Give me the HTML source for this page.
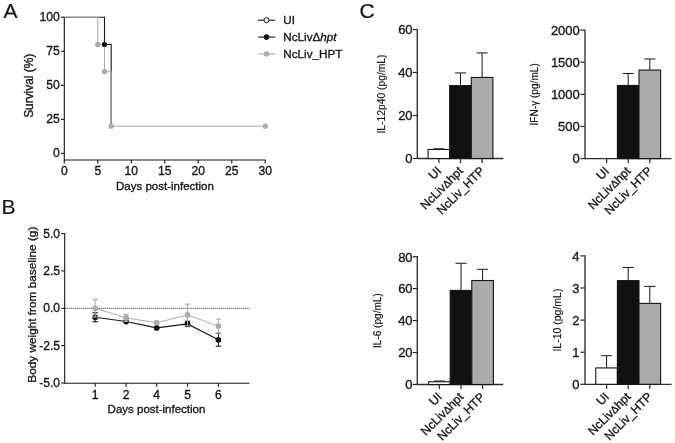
<!DOCTYPE html>
<html><head><meta charset="utf-8"><title>Figure</title>
<style>
html,body{margin:0;padding:0;background:#fff;}
body{width:675px;height:443px;overflow:hidden;font-family:'Liberation Sans', sans-serif;}
svg{display:block;}
svg text{font-family:'Liberation Sans', sans-serif;}
</style></head><body>
<svg width="675" height="443" viewBox="0 0 675 443">
<rect x="0" y="0" width="675" height="443" fill="#ffffff"/>
<text x="3.40" y="17.90" font-size="21" text-anchor="start" fill="#161616" stroke="#161616" stroke-width="0.2" >A</text>
<text x="1.60" y="213.60" font-size="21" text-anchor="start" fill="#161616" stroke="#161616" stroke-width="0.2" >B</text>
<text x="359.50" y="17.70" font-size="21" text-anchor="start" fill="#161616" stroke="#161616" stroke-width="0.2" >C</text>
<line x1="64.30" y1="16.70" x2="64.30" y2="160.00" stroke="#161616" stroke-width="1.1" />
<line x1="63.80" y1="160.00" x2="265.71" y2="160.00" stroke="#161616" stroke-width="1.1" />
<line x1="60.90" y1="153.40" x2="64.30" y2="153.40" stroke="#161616" stroke-width="1.1" />
<text x="59.70" y="157.30" font-size="12.1" text-anchor="end" fill="#161616" stroke="#161616" stroke-width="0.33" >0</text>
<line x1="60.90" y1="119.35" x2="64.30" y2="119.35" stroke="#161616" stroke-width="1.1" />
<text x="59.70" y="123.25" font-size="12.1" text-anchor="end" fill="#161616" stroke="#161616" stroke-width="0.33" >25</text>
<line x1="60.90" y1="85.30" x2="64.30" y2="85.30" stroke="#161616" stroke-width="1.1" />
<text x="59.70" y="89.20" font-size="12.1" text-anchor="end" fill="#161616" stroke="#161616" stroke-width="0.33" >50</text>
<line x1="60.90" y1="51.25" x2="64.30" y2="51.25" stroke="#161616" stroke-width="1.1" />
<text x="59.70" y="55.15" font-size="12.1" text-anchor="end" fill="#161616" stroke="#161616" stroke-width="0.33" >75</text>
<line x1="60.90" y1="17.20" x2="64.30" y2="17.20" stroke="#161616" stroke-width="1.1" />
<text x="59.70" y="21.10" font-size="12.1" text-anchor="end" fill="#161616" stroke="#161616" stroke-width="0.33" >100</text>
<line x1="64.30" y1="160.00" x2="64.30" y2="163.50" stroke="#161616" stroke-width="1.1" />
<text x="64.30" y="175.10" font-size="12.1" text-anchor="middle" fill="#161616" stroke="#161616" stroke-width="0.33" >0</text>
<line x1="97.78" y1="160.00" x2="97.78" y2="163.50" stroke="#161616" stroke-width="1.1" />
<text x="97.78" y="175.10" font-size="12.1" text-anchor="middle" fill="#161616" stroke="#161616" stroke-width="0.33" >5</text>
<line x1="131.27" y1="160.00" x2="131.27" y2="163.50" stroke="#161616" stroke-width="1.1" />
<text x="131.27" y="175.10" font-size="12.1" text-anchor="middle" fill="#161616" stroke="#161616" stroke-width="0.33" >10</text>
<line x1="164.75" y1="160.00" x2="164.75" y2="163.50" stroke="#161616" stroke-width="1.1" />
<text x="164.75" y="175.10" font-size="12.1" text-anchor="middle" fill="#161616" stroke="#161616" stroke-width="0.33" >15</text>
<line x1="198.24" y1="160.00" x2="198.24" y2="163.50" stroke="#161616" stroke-width="1.1" />
<text x="198.24" y="175.10" font-size="12.1" text-anchor="middle" fill="#161616" stroke="#161616" stroke-width="0.33" >20</text>
<line x1="231.73" y1="160.00" x2="231.73" y2="163.50" stroke="#161616" stroke-width="1.1" />
<text x="231.73" y="175.10" font-size="12.1" text-anchor="middle" fill="#161616" stroke="#161616" stroke-width="0.33" >25</text>
<line x1="265.21" y1="160.00" x2="265.21" y2="163.50" stroke="#161616" stroke-width="1.1" />
<text x="265.21" y="175.10" font-size="12.1" text-anchor="middle" fill="#161616" stroke="#161616" stroke-width="0.33" >30</text>
<text x="164.95" y="189.50" font-size="11.5" text-anchor="middle" fill="#161616" stroke="#161616" stroke-width="0.33" >Days post-infection</text>
<text x="33.40" y="85.80" font-size="11.9" text-anchor="middle" fill="#161616" stroke="#161616" stroke-width="0.33" transform="rotate(-90 33.4 85.8)">Survival (%)</text>
<polyline points="64.30,17.20 104.48,17.20 104.48,44.44 111.18,44.44 111.18,126.16" fill="none" stroke="#161616" stroke-width="1.1"/>
<polyline points="64.30,17.20 97.78,17.20 97.78,44.44 104.48,44.44 104.48,71.68 111.18,71.68 111.18,126.16 265.21,126.16" fill="none" stroke="#ababab" stroke-width="1.0"/>
<circle cx="104.48" cy="44.44" r="2.6" fill="#161616"/>
<circle cx="97.78" cy="44.44" r="2.7" fill="#ababab"/>
<circle cx="104.48" cy="71.68" r="2.7" fill="#ababab"/>
<circle cx="111.18" cy="126.16" r="2.7" fill="#ababab"/>
<circle cx="265.21" cy="126.16" r="2.7" fill="#ababab"/>
<line x1="258.00" y1="20.20" x2="275.00" y2="20.20" stroke="#161616" stroke-width="1.1" />
<circle cx="266.50" cy="20.20" r="2.5" fill="#fff" stroke="#161616" stroke-width="1"/>
<text x="283.30" y="24.40" font-size="11.7" text-anchor="start" fill="#161616" stroke="#161616" stroke-width="0.33" >UI</text>
<line x1="258.00" y1="37.10" x2="275.00" y2="37.10" stroke="#161616" stroke-width="1.1" />
<circle cx="266.50" cy="37.10" r="2.8" fill="#161616"/>
<text x="283.30" y="41.30" font-size="11.7" text-anchor="start" fill="#161616" stroke="#161616" stroke-width="0.33" >NcLiv&#916;<tspan font-style="italic">hpt</tspan></text>
<line x1="258.00" y1="54.00" x2="275.00" y2="54.00" stroke="#ababab" stroke-width="1.1" />
<circle cx="266.50" cy="54.00" r="2.8" fill="#ababab"/>
<text x="283.30" y="58.20" font-size="11.7" text-anchor="start" fill="#161616" stroke="#161616" stroke-width="0.33" >NcLiv_HPT</text>
<line x1="64.70" y1="233.10" x2="64.70" y2="383.70" stroke="#161616" stroke-width="1.1" />
<line x1="64.70" y1="383.20" x2="249.50" y2="383.20" stroke="#161616" stroke-width="1.1" />
<line x1="61.30" y1="233.60" x2="64.70" y2="233.60" stroke="#161616" stroke-width="1.1" />
<text x="60.10" y="237.50" font-size="12.1" text-anchor="end" fill="#161616" stroke="#161616" stroke-width="0.33" >5.0</text>
<line x1="61.30" y1="270.95" x2="64.70" y2="270.95" stroke="#161616" stroke-width="1.1" />
<text x="60.10" y="274.85" font-size="12.1" text-anchor="end" fill="#161616" stroke="#161616" stroke-width="0.33" >2.5</text>
<line x1="61.30" y1="308.30" x2="64.70" y2="308.30" stroke="#161616" stroke-width="1.1" />
<text x="60.10" y="312.20" font-size="12.1" text-anchor="end" fill="#161616" stroke="#161616" stroke-width="0.33" >0.0</text>
<line x1="61.30" y1="345.65" x2="64.70" y2="345.65" stroke="#161616" stroke-width="1.1" />
<text x="60.10" y="349.55" font-size="12.1" text-anchor="end" fill="#161616" stroke="#161616" stroke-width="0.33" >-2.5</text>
<line x1="61.30" y1="383.00" x2="64.70" y2="383.00" stroke="#161616" stroke-width="1.1" />
<text x="60.10" y="386.90" font-size="12.1" text-anchor="end" fill="#161616" stroke="#161616" stroke-width="0.33" >-5.0</text>
<line x1="95.20" y1="383.20" x2="95.20" y2="386.70" stroke="#161616" stroke-width="1.1" />
<text x="95.20" y="398.50" font-size="12.1" text-anchor="middle" fill="#161616" stroke="#161616" stroke-width="0.33" >1</text>
<line x1="126.10" y1="383.20" x2="126.10" y2="386.70" stroke="#161616" stroke-width="1.1" />
<text x="126.10" y="398.50" font-size="12.1" text-anchor="middle" fill="#161616" stroke="#161616" stroke-width="0.33" >2</text>
<line x1="156.70" y1="383.20" x2="156.70" y2="386.70" stroke="#161616" stroke-width="1.1" />
<text x="156.70" y="398.50" font-size="12.1" text-anchor="middle" fill="#161616" stroke="#161616" stroke-width="0.33" >4</text>
<line x1="187.50" y1="383.20" x2="187.50" y2="386.70" stroke="#161616" stroke-width="1.1" />
<text x="187.50" y="398.50" font-size="12.1" text-anchor="middle" fill="#161616" stroke="#161616" stroke-width="0.33" >5</text>
<line x1="218.40" y1="383.20" x2="218.40" y2="386.70" stroke="#161616" stroke-width="1.1" />
<text x="218.40" y="398.50" font-size="12.1" text-anchor="middle" fill="#161616" stroke="#161616" stroke-width="0.33" >6</text>
<text x="156.50" y="412.70" font-size="11.5" text-anchor="middle" fill="#161616" stroke="#161616" stroke-width="0.33" >Days post-infection</text>
<text x="35.90" y="304.70" font-size="11.8" text-anchor="middle" fill="#161616" stroke="#161616" stroke-width="0.33" transform="rotate(-90 35.9 304.7)">Body weight from baseline (g)</text>
<line x1="64.70" y1="308.30" x2="249.50" y2="308.30" stroke="#161616" stroke-width="1" stroke-dasharray="1 1"/>
<line x1="95.20" y1="312.80" x2="95.20" y2="321.80" stroke="#161616" stroke-width="1" />
<line x1="92.50" y1="312.80" x2="97.90" y2="312.80" stroke="#161616" stroke-width="1.1" />
<line x1="92.50" y1="321.80" x2="97.90" y2="321.80" stroke="#161616" stroke-width="1.1" />
<line x1="187.50" y1="321.30" x2="187.50" y2="326.50" stroke="#161616" stroke-width="1" />
<line x1="184.80" y1="321.30" x2="190.20" y2="321.30" stroke="#161616" stroke-width="1.1" />
<line x1="184.80" y1="326.50" x2="190.20" y2="326.50" stroke="#161616" stroke-width="1.1" />
<line x1="218.40" y1="333.40" x2="218.40" y2="346.20" stroke="#161616" stroke-width="1" />
<line x1="215.70" y1="333.40" x2="221.10" y2="333.40" stroke="#161616" stroke-width="1.1" />
<line x1="215.70" y1="346.20" x2="221.10" y2="346.20" stroke="#161616" stroke-width="1.1" />
<polyline points="95.20,317.30 126.10,321.50 156.70,327.90 187.50,323.90 218.40,339.80" fill="none" stroke="#161616" stroke-width="1.1"/>
<circle cx="95.20" cy="317.30" r="2.9" fill="#111111"/>
<circle cx="126.10" cy="321.50" r="2.9" fill="#111111"/>
<circle cx="156.70" cy="327.90" r="2.9" fill="#111111"/>
<circle cx="187.50" cy="323.90" r="2.9" fill="#111111"/>
<circle cx="218.40" cy="339.80" r="2.9" fill="#111111"/>
<line x1="95.20" y1="299.60" x2="95.20" y2="317.00" stroke="#ababab" stroke-width="1" />
<line x1="92.50" y1="299.60" x2="97.90" y2="299.60" stroke="#ababab" stroke-width="1.1" />
<line x1="92.50" y1="317.00" x2="97.90" y2="317.00" stroke="#ababab" stroke-width="1.1" />
<line x1="126.10" y1="314.40" x2="126.10" y2="321.40" stroke="#ababab" stroke-width="1" />
<line x1="123.40" y1="314.40" x2="128.80" y2="314.40" stroke="#ababab" stroke-width="1.1" />
<line x1="123.40" y1="321.40" x2="128.80" y2="321.40" stroke="#ababab" stroke-width="1.1" />
<line x1="187.50" y1="304.10" x2="187.50" y2="325.90" stroke="#ababab" stroke-width="1" />
<line x1="184.80" y1="304.10" x2="190.20" y2="304.10" stroke="#ababab" stroke-width="1.1" />
<line x1="184.80" y1="325.90" x2="190.20" y2="325.90" stroke="#ababab" stroke-width="1.1" />
<line x1="218.40" y1="319.10" x2="218.40" y2="333.10" stroke="#ababab" stroke-width="1" />
<line x1="215.70" y1="319.10" x2="221.10" y2="319.10" stroke="#ababab" stroke-width="1.1" />
<line x1="215.70" y1="333.10" x2="221.10" y2="333.10" stroke="#ababab" stroke-width="1.1" />
<polyline points="95.20,308.30 126.10,317.90 156.70,322.70 187.50,315.00 218.40,326.10" fill="none" stroke="#ababab" stroke-width="1.0"/>
<circle cx="95.20" cy="308.30" r="2.9" fill="#ababab"/>
<circle cx="126.10" cy="317.90" r="2.9" fill="#ababab"/>
<circle cx="156.70" cy="322.70" r="2.9" fill="#ababab"/>
<circle cx="187.50" cy="315.00" r="2.9" fill="#ababab"/>
<circle cx="218.40" cy="326.10" r="2.9" fill="#ababab"/>
<line x1="417.30" y1="28.90" x2="417.30" y2="159.10" stroke="#2e2e2e" stroke-width="1.35" />
<line x1="417.30" y1="158.50" x2="503.30" y2="158.50" stroke="#2e2e2e" stroke-width="1.35" />
<line x1="412.70" y1="158.50" x2="417.30" y2="158.50" stroke="#2e2e2e" stroke-width="1.25" />
<text x="412.60" y="163.30" font-size="13" text-anchor="end" fill="#161616" stroke="#161616" stroke-width="0.33" >0</text>
<line x1="412.70" y1="115.50" x2="417.30" y2="115.50" stroke="#2e2e2e" stroke-width="1.25" />
<text x="412.60" y="120.30" font-size="13" text-anchor="end" fill="#161616" stroke="#161616" stroke-width="0.33" >20</text>
<line x1="412.70" y1="72.50" x2="417.30" y2="72.50" stroke="#2e2e2e" stroke-width="1.25" />
<text x="412.60" y="77.30" font-size="13" text-anchor="end" fill="#161616" stroke="#161616" stroke-width="0.33" >40</text>
<line x1="412.70" y1="29.50" x2="417.30" y2="29.50" stroke="#2e2e2e" stroke-width="1.25" />
<text x="412.60" y="34.30" font-size="13" text-anchor="end" fill="#161616" stroke="#161616" stroke-width="0.33" >60</text>
<line x1="438.90" y1="148.82" x2="438.90" y2="149.47" stroke="#161616" stroke-width="1" />
<line x1="433.40" y1="148.82" x2="444.40" y2="148.82" stroke="#161616" stroke-width="1" />
<rect x="428.10" y="149.47" width="21.60" height="9.03" fill="#fff" stroke="#161616" stroke-width="1.1"/>
<line x1="438.90" y1="158.50" x2="438.90" y2="163.10" stroke="#2e2e2e" stroke-width="1.25" />
<text x="442.10" y="171.70" font-size="12.2" text-anchor="end" fill="#161616" stroke="#161616" stroke-width="0.33" transform="rotate(-45 442.10 171.70)">UI</text>
<line x1="460.50" y1="72.93" x2="460.50" y2="85.62" stroke="#161616" stroke-width="1" />
<line x1="455.00" y1="72.93" x2="466.00" y2="72.93" stroke="#161616" stroke-width="1" />
<rect x="449.70" y="85.62" width="21.60" height="72.88" fill="#111111" stroke="#161616" stroke-width="1.1"/>
<line x1="460.50" y1="158.50" x2="460.50" y2="163.10" stroke="#2e2e2e" stroke-width="1.25" />
<text x="463.70" y="171.70" font-size="12.2" text-anchor="end" fill="#161616" stroke="#161616" stroke-width="0.33" transform="rotate(-45 463.70 171.70)">NcLiv<tspan font-size="10.5">&#916;</tspan>hpt</text>
<line x1="482.10" y1="52.93" x2="482.10" y2="77.44" stroke="#161616" stroke-width="1" />
<line x1="476.60" y1="52.93" x2="487.60" y2="52.93" stroke="#161616" stroke-width="1" />
<rect x="471.30" y="77.44" width="21.60" height="81.06" fill="#ababab" stroke="#161616" stroke-width="1.1"/>
<line x1="482.10" y1="158.50" x2="482.10" y2="163.10" stroke="#2e2e2e" stroke-width="1.25" />
<text x="485.30" y="171.70" font-size="12.2" text-anchor="end" fill="#161616" stroke="#161616" stroke-width="0.33" transform="rotate(-45 485.30 171.70)">NcLiv_HTP</text>
<text x="384.80" y="94.00" font-size="10.3" text-anchor="middle" fill="#161616" stroke="#161616" stroke-width="0.15" transform="rotate(-90 384.8 94.00)">IL-12p40 (pg/mL)</text>
<line x1="585.00" y1="29.50" x2="585.00" y2="159.20" stroke="#2e2e2e" stroke-width="1.35" />
<line x1="585.00" y1="158.60" x2="671.50" y2="158.60" stroke="#2e2e2e" stroke-width="1.35" />
<line x1="580.40" y1="158.60" x2="585.00" y2="158.60" stroke="#2e2e2e" stroke-width="1.25" />
<text x="579.80" y="163.40" font-size="13" text-anchor="end" fill="#161616" stroke="#161616" stroke-width="0.33" >0</text>
<line x1="580.40" y1="126.47" x2="585.00" y2="126.47" stroke="#2e2e2e" stroke-width="1.25" />
<text x="579.80" y="131.28" font-size="13" text-anchor="end" fill="#161616" stroke="#161616" stroke-width="0.33" >500</text>
<line x1="580.40" y1="94.35" x2="585.00" y2="94.35" stroke="#2e2e2e" stroke-width="1.25" />
<text x="579.80" y="99.15" font-size="13" text-anchor="end" fill="#161616" stroke="#161616" stroke-width="0.33" >1000</text>
<line x1="580.40" y1="62.22" x2="585.00" y2="62.22" stroke="#2e2e2e" stroke-width="1.25" />
<text x="579.80" y="67.02" font-size="13" text-anchor="end" fill="#161616" stroke="#161616" stroke-width="0.33" >1500</text>
<line x1="580.40" y1="30.10" x2="585.00" y2="30.10" stroke="#2e2e2e" stroke-width="1.25" />
<text x="579.80" y="34.90" font-size="13" text-anchor="end" fill="#161616" stroke="#161616" stroke-width="0.33" >2000</text>
<line x1="606.60" y1="158.60" x2="606.60" y2="163.20" stroke="#2e2e2e" stroke-width="1.25" />
<text x="609.80" y="171.80" font-size="12.2" text-anchor="end" fill="#161616" stroke="#161616" stroke-width="0.33" transform="rotate(-45 609.80 171.80)">UI</text>
<line x1="628.20" y1="73.47" x2="628.20" y2="85.48" stroke="#161616" stroke-width="1" />
<line x1="622.70" y1="73.47" x2="633.70" y2="73.47" stroke="#161616" stroke-width="1" />
<rect x="617.40" y="85.48" width="21.60" height="73.12" fill="#111111" stroke="#161616" stroke-width="1.1"/>
<line x1="628.20" y1="158.60" x2="628.20" y2="163.20" stroke="#2e2e2e" stroke-width="1.25" />
<text x="631.40" y="171.80" font-size="12.2" text-anchor="end" fill="#161616" stroke="#161616" stroke-width="0.33" transform="rotate(-45 631.40 171.80)">NcLiv<tspan font-size="10.5">&#916;</tspan>hpt</text>
<line x1="649.80" y1="59.01" x2="649.80" y2="70.06" stroke="#161616" stroke-width="1" />
<line x1="644.30" y1="59.01" x2="655.30" y2="59.01" stroke="#161616" stroke-width="1" />
<rect x="639.00" y="70.06" width="21.60" height="88.54" fill="#ababab" stroke="#161616" stroke-width="1.1"/>
<line x1="649.80" y1="158.60" x2="649.80" y2="163.20" stroke="#2e2e2e" stroke-width="1.25" />
<text x="653.00" y="171.80" font-size="12.2" text-anchor="end" fill="#161616" stroke="#161616" stroke-width="0.33" transform="rotate(-45 653.00 171.80)">NcLiv_HTP</text>
<text x="538.00" y="94.35" font-size="10.1" text-anchor="middle" fill="#161616" stroke="#161616" stroke-width="0.15" transform="rotate(-90 538 94.35)">IFN-&#947; (pg/mL)</text>
<line x1="417.30" y1="256.10" x2="417.30" y2="385.10" stroke="#2e2e2e" stroke-width="1.35" />
<line x1="417.30" y1="384.50" x2="503.30" y2="384.50" stroke="#2e2e2e" stroke-width="1.35" />
<line x1="412.70" y1="384.50" x2="417.30" y2="384.50" stroke="#2e2e2e" stroke-width="1.25" />
<text x="412.60" y="389.30" font-size="13" text-anchor="end" fill="#161616" stroke="#161616" stroke-width="0.33" >0</text>
<line x1="412.70" y1="352.55" x2="417.30" y2="352.55" stroke="#2e2e2e" stroke-width="1.25" />
<text x="412.60" y="357.35" font-size="13" text-anchor="end" fill="#161616" stroke="#161616" stroke-width="0.33" >20</text>
<line x1="412.70" y1="320.60" x2="417.30" y2="320.60" stroke="#2e2e2e" stroke-width="1.25" />
<text x="412.60" y="325.40" font-size="13" text-anchor="end" fill="#161616" stroke="#161616" stroke-width="0.33" >40</text>
<line x1="412.70" y1="288.65" x2="417.30" y2="288.65" stroke="#2e2e2e" stroke-width="1.25" />
<text x="412.60" y="293.45" font-size="13" text-anchor="end" fill="#161616" stroke="#161616" stroke-width="0.33" >60</text>
<line x1="412.70" y1="256.70" x2="417.30" y2="256.70" stroke="#2e2e2e" stroke-width="1.25" />
<text x="412.60" y="261.50" font-size="13" text-anchor="end" fill="#161616" stroke="#161616" stroke-width="0.33" >80</text>
<line x1="439.40" y1="380.99" x2="439.40" y2="381.78" stroke="#161616" stroke-width="1" />
<line x1="433.90" y1="380.99" x2="444.90" y2="380.99" stroke="#161616" stroke-width="1" />
<rect x="428.60" y="381.78" width="21.60" height="2.72" fill="#fff" stroke="#161616" stroke-width="1.1"/>
<line x1="439.40" y1="384.50" x2="439.40" y2="389.10" stroke="#2e2e2e" stroke-width="1.25" />
<text x="442.60" y="397.70" font-size="12.2" text-anchor="end" fill="#161616" stroke="#161616" stroke-width="0.33" transform="rotate(-45 442.60 397.70)">UI</text>
<line x1="461.00" y1="263.25" x2="461.00" y2="290.41" stroke="#161616" stroke-width="1" />
<line x1="455.50" y1="263.25" x2="466.50" y2="263.25" stroke="#161616" stroke-width="1" />
<rect x="450.20" y="290.41" width="21.60" height="94.09" fill="#111111" stroke="#161616" stroke-width="1.1"/>
<line x1="461.00" y1="384.50" x2="461.00" y2="389.10" stroke="#2e2e2e" stroke-width="1.25" />
<text x="464.20" y="397.70" font-size="12.2" text-anchor="end" fill="#161616" stroke="#161616" stroke-width="0.33" transform="rotate(-45 464.20 397.70)">NcLiv<tspan font-size="10.5">&#916;</tspan>hpt</text>
<line x1="482.60" y1="269.32" x2="482.60" y2="280.50" stroke="#161616" stroke-width="1" />
<line x1="477.10" y1="269.32" x2="488.10" y2="269.32" stroke="#161616" stroke-width="1" />
<rect x="471.80" y="280.50" width="21.60" height="104.00" fill="#ababab" stroke="#161616" stroke-width="1.1"/>
<line x1="482.60" y1="384.50" x2="482.60" y2="389.10" stroke="#2e2e2e" stroke-width="1.25" />
<text x="485.80" y="397.70" font-size="12.2" text-anchor="end" fill="#161616" stroke="#161616" stroke-width="0.33" transform="rotate(-45 485.80 397.70)">NcLiv_HTP</text>
<text x="381.00" y="320.60" font-size="10.1" text-anchor="middle" fill="#161616" stroke="#161616" stroke-width="0.15" transform="rotate(-90 381 320.60)">IL-6 (pg/mL)</text>
<line x1="585.00" y1="255.30" x2="585.00" y2="384.90" stroke="#2e2e2e" stroke-width="1.35" />
<line x1="585.00" y1="384.30" x2="671.50" y2="384.30" stroke="#2e2e2e" stroke-width="1.35" />
<line x1="580.40" y1="384.30" x2="585.00" y2="384.30" stroke="#2e2e2e" stroke-width="1.25" />
<text x="579.40" y="389.10" font-size="13" text-anchor="end" fill="#161616" stroke="#161616" stroke-width="0.33" >0</text>
<line x1="580.40" y1="352.20" x2="585.00" y2="352.20" stroke="#2e2e2e" stroke-width="1.25" />
<text x="579.40" y="357.00" font-size="13" text-anchor="end" fill="#161616" stroke="#161616" stroke-width="0.33" >1</text>
<line x1="580.40" y1="320.10" x2="585.00" y2="320.10" stroke="#2e2e2e" stroke-width="1.25" />
<text x="579.40" y="324.90" font-size="13" text-anchor="end" fill="#161616" stroke="#161616" stroke-width="0.33" >2</text>
<line x1="580.40" y1="288.00" x2="585.00" y2="288.00" stroke="#2e2e2e" stroke-width="1.25" />
<text x="579.40" y="292.80" font-size="13" text-anchor="end" fill="#161616" stroke="#161616" stroke-width="0.33" >3</text>
<line x1="580.40" y1="255.90" x2="585.00" y2="255.90" stroke="#2e2e2e" stroke-width="1.25" />
<text x="579.40" y="260.70" font-size="13" text-anchor="end" fill="#161616" stroke="#161616" stroke-width="0.33" >4</text>
<line x1="606.60" y1="355.73" x2="606.60" y2="367.93" stroke="#161616" stroke-width="1" />
<line x1="601.10" y1="355.73" x2="612.10" y2="355.73" stroke="#161616" stroke-width="1" />
<rect x="595.80" y="367.93" width="21.60" height="16.37" fill="#fff" stroke="#161616" stroke-width="1.1"/>
<line x1="606.60" y1="384.30" x2="606.60" y2="388.90" stroke="#2e2e2e" stroke-width="1.25" />
<text x="609.80" y="397.50" font-size="12.2" text-anchor="end" fill="#161616" stroke="#161616" stroke-width="0.33" transform="rotate(-45 609.80 397.50)">UI</text>
<line x1="628.20" y1="267.46" x2="628.20" y2="280.62" stroke="#161616" stroke-width="1" />
<line x1="622.70" y1="267.46" x2="633.70" y2="267.46" stroke="#161616" stroke-width="1" />
<rect x="617.40" y="280.62" width="21.60" height="103.68" fill="#111111" stroke="#161616" stroke-width="1.1"/>
<line x1="628.20" y1="384.30" x2="628.20" y2="388.90" stroke="#2e2e2e" stroke-width="1.25" />
<text x="631.40" y="397.50" font-size="12.2" text-anchor="end" fill="#161616" stroke="#161616" stroke-width="0.33" transform="rotate(-45 631.40 397.50)">NcLiv<tspan font-size="10.5">&#916;</tspan>hpt</text>
<line x1="649.80" y1="286.39" x2="649.80" y2="303.41" stroke="#161616" stroke-width="1" />
<line x1="644.30" y1="286.39" x2="655.30" y2="286.39" stroke="#161616" stroke-width="1" />
<rect x="639.00" y="303.41" width="21.60" height="80.89" fill="#ababab" stroke="#161616" stroke-width="1.1"/>
<line x1="649.80" y1="384.30" x2="649.80" y2="388.90" stroke="#2e2e2e" stroke-width="1.25" />
<text x="653.00" y="397.50" font-size="12.2" text-anchor="end" fill="#161616" stroke="#161616" stroke-width="0.33" transform="rotate(-45 653.00 397.50)">NcLiv_HTP</text>
<text x="561.00" y="320.10" font-size="10.5" text-anchor="middle" fill="#161616" stroke="#161616" stroke-width="0.15" transform="rotate(-90 561 320.10)">IL-10 (pg/mL)</text>
</svg>
</body></html>
